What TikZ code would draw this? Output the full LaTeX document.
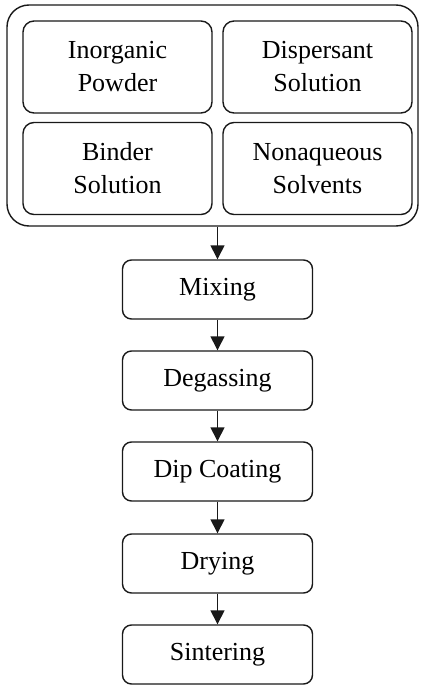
\documentclass[tikz,border=0pt]{standalone}
\usepackage{fontspec}
\setmainfont{Liberation Serif}
\usetikzlibrary{arrows.meta}
\begin{document}
\begin{tikzpicture}[x=1pt,y=-1pt,
  base/.style={draw=black!90, line width=1.4pt, inner sep=0pt, align=center,
    font=\fontsize{26}{33}\selectfont},
  inbox/.style={base, rounded corners=11pt, minimum width=189pt, minimum height=92pt},
  procbox/.style={base, rounded corners=9pt, minimum width=190pt, minimum height=59pt},
  outbox/.style={draw=black!90, line width=1.4pt, rounded corners=22pt, inner sep=0pt,
    minimum width=411pt, minimum height=221pt},
  flow/.style={draw=black!90, line width=1.4pt, -{Triangle[width=14pt,length=14pt]}}]
\useasboundingbox (0,0) rectangle (420,687);
\node[outbox] (outer) at (212.5,115.5) {};
\node[inbox] (powder) at (117.5,67) {Inorganic\\Powder};
\node[inbox] (disp) at (317.5,67) {Dispersant\\Solution};
\node[inbox] (binder) at (117.5,168.5) {Binder\\Solution};
\node[inbox] (solv) at (317.5,168.5) {Nonaqueous\\Solvents};
\node[procbox] (mix) at (217.5,289.5) {Mixing};
\node[procbox] (degas) at (217.5,380.5) {Degassing};
\node[procbox] (dip) at (217.5,471.5) {Dip Coating};
\node[procbox] (dry) at (217.5,563.5) {Drying};
\node[procbox] (sinter) at (217.5,654.5) {Sintering};
\draw[flow] (outer.south -| mix.north) -- (mix.north);
\draw[flow] (mix) -- (degas);
\draw[flow] (degas) -- (dip);
\draw[flow] (dip) -- (dry);
\draw[flow] (dry) -- (sinter);
\end{tikzpicture}
\end{document}
